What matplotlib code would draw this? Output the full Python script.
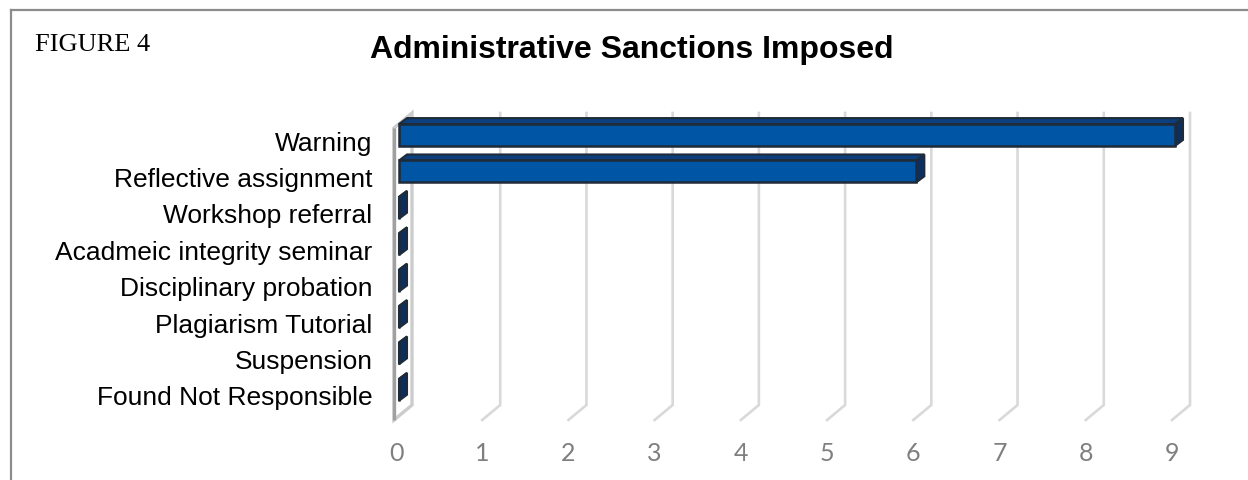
import matplotlib
matplotlib.use('Agg')
import matplotlib.pyplot as plt
from matplotlib.patches import Polygon
from matplotlib.lines import Line2D
from matplotlib.transforms import offset_copy
import numpy as np

categories = ["Warning", "Reflective assignment", "Workshop referral",
              "Acadmeic integrity seminar", "Disciplinary probation",
              "Plagiarism Tutorial", "Suspension", "Found Not Responsible"]
counts = [9, 6, 0, 0, 0, 0, 0, 0]
x_ticks = list(range(10))
title = "Administrative Sanctions Imposed"
fig_label = "FIGURE 4"

W, H = 1248, 480
fig = plt.figure(figsize=(W / 100, H / 100), dpi=100)
fig.patch.set_facecolor('white')

# plot box (front plane) in pixels
px_left, px_right = 396, 1172
px_top, px_bottom = 128, 420
ax = fig.add_axes([px_left / W, 1 - px_bottom / H,
                   (px_right - px_left) / W, (px_bottom - px_top) / H])
n = len(categories)
pos = np.arange(n)
step = 36.4
first_center = 141
y_top = -(first_center - px_top) / step
y_bot = (px_bottom - first_center) / step
ax.set_xlim(0, 9)
ax.set_ylim(y_bot, y_top)
for s in ax.spines.values():
    s.set_visible(False)
ax.patch.set_visible(False)


def shift(x, y, dx, dy):
    p = ax.transData.transform((x, y))
    return tuple(ax.transData.inverted().transform((p[0] + dx, p[1] + dy)))


DX, DY = 18, 15  # depth of the 3D box in pixels

# left wall
wall = [shift(0, y_bot, -2, 0), shift(0, y_bot, DX - 2, DY),
        shift(0, y_top, DX - 2, DY), shift(0, y_top, -2, 0)]
ax.add_patch(Polygon(wall, closed=True, facecolor='white', edgecolor='#cccccc',
                     lw=2.4, zorder=1, clip_on=False))
fl = [wall[0], wall[3]]
ax.plot([p[0] for p in fl], [p[1] for p in fl], color='#a0a0a0', lw=2.4,
        zorder=1.1, clip_on=False, solid_capstyle='butt')

# gridlines on back plane with floor feet
for v in x_ticks[1:]:
    pts = [(v, y_bot), shift(v, y_bot, DX, DY), shift(v, y_top, DX, DY)]
    ax.plot([p[0] for p in pts], [p[1] for p in pts], color='#d9d9d9', lw=1.9,
            zorder=0.5, clip_on=False, solid_joinstyle='miter')

# bars
h = 0.6
bx, by = 3, 6
bdx, bdy = 8, 6
front_col = '#0055a5'
top_col = '#0b3f7e'
side_col = '#0c2f5f'
edge_col = '#1f2b38'
for i, v in zip(pos, counts):
    yt, yb = i - h / 2, i + h / 2
    top = [shift(0, yt, bx, by), shift(v, yt, bx, by),
           shift(v, yt, bx + bdx, by + bdy), shift(0, yt, bx + bdx, by + bdy)]
    side = [shift(v, yt, bx, by), shift(v, yb, bx, by),
            shift(v, yb, bx + bdx, by + bdy), shift(v, yt, bx + bdx, by + bdy)]
    ax.add_patch(Polygon(top, closed=True, facecolor=top_col, edgecolor=edge_col,
                         lw=1.5, zorder=3, clip_on=False, joinstyle='miter'))
    ax.add_patch(Polygon(side, closed=True, facecolor=side_col, edgecolor=edge_col,
                         lw=1.5, zorder=3, clip_on=False, joinstyle='miter'))
ax.barh(pos, counts, height=h, color=front_col, edgecolor=edge_col, linewidth=1.8,
        zorder=4, clip_on=False,
        transform=offset_copy(ax.transData, fig=fig, x=bx, y=by, units='dots'))
ax.set_xlim(0, 9)
ax.set_ylim(y_bot, y_top)

ax.set_xticks(x_ticks)
ax.set_xticklabels([str(t) for t in x_ticks], family='Lato', fontsize=18,
                   color='#7f7f7f')
ax.tick_params(axis='x', length=0, pad=16)
ax.set_yticks(pos)
ax.set_yticklabels(categories, family='Liberation Sans', fontsize=19,
                   color='black')
ax.tick_params(axis='y', length=0, pad=17)

fig.text(632 / W, 1 - 50 / H, title, ha='center', va='center', fontsize=23,
         weight='bold', family='Liberation Sans')
fig.text(35 / W, 1 - 45 / H, fig_label, ha='left', va='center', fontsize=19,
         family='Liberation Serif')

fig.add_artist(Line2D([11 / W, 11 / W], [0, 1 - 10 / H], color='#8c8c8c', lw=1.6))
fig.add_artist(Line2D([11 / W, 1], [1 - 10 / H, 1 - 10 / H], color='#8c8c8c', lw=1.6))

fig.savefig('out.png', dpi=100, facecolor='white')
